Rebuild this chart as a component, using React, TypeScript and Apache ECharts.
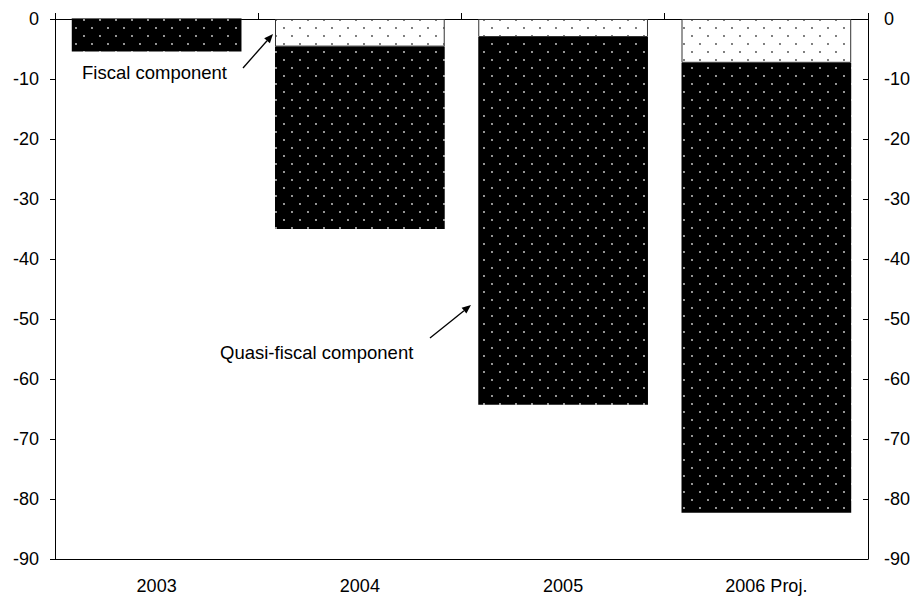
import React, { useEffect, useRef } from "react";
import * as echarts from "echarts";

const categories = ["2003", "2004", "2005", "2006 Proj."];
const fiscalComponent = [0, -4.6, -3.0, -7.3];
const quasiFiscalComponent = [-5.4, -30.4, -61.3, -75.0];
const yMin = -90;
const yMax = 0;
const yInterval = 10;

const FONT = "'Liberation Sans', Arial, sans-serif";

function makePattern(bg: string, dot: string): HTMLCanvasElement {
  const c = document.createElement("canvas");
  c.width = 16;
  c.height = 16;
  const ctx = c.getContext("2d")!;
  ctx.fillStyle = bg;
  ctx.fillRect(0, 0, 16, 16);
  ctx.fillStyle = dot;
  const pts = [
    [4, 4],
    [12, 12],
  ];
  for (const [x, y] of pts) {
    ctx.beginPath();
    ctx.arc(x, y, 0.9, 0, Math.PI * 2);
    ctx.fill();
  }
  return c;
}

function arrow(x1: number, y1: number, x2: number, y2: number) {
  const dx = x2 - x1;
  const dy = y2 - y1;
  const len = Math.sqrt(dx * dx + dy * dy);
  const ux = dx / len;
  const uy = dy / len;
  const hl = 9;
  const hw = 3.8;
  const bx = x2 - ux * hl;
  const by = y2 - uy * hl;
  return [
    {
      type: "line",
      shape: { x1, y1, x2: bx, y2: by },
      style: { stroke: "#000", lineWidth: 1.3 },
      silent: true,
    },
    {
      type: "polygon",
      shape: {
        points: [
          [x2, y2],
          [bx - uy * hw, by + ux * hw],
          [bx + uy * hw, by - ux * hw],
        ],
      },
      style: { fill: "#000" },
      silent: true,
    },
  ];
}

export default function App() {
  const ref = useRef<HTMLDivElement>(null);

  useEffect(() => {
    if (!ref.current) return;
    const chart = echarts.init(ref.current, undefined, { renderer: "svg" });
    const blackPat = makePattern("#000000", "#dcdcdc");
    const whitePat = makePattern("#ffffff", "#444444");

    const axisLabelStyle = {
      color: "#000",
      fontFamily: FONT,
      fontSize: 18,
    };

    chart.setOption({
      animation: false,
      backgroundColor: "#fff",
      grid: { left: 55, right: 45, top: 19, bottom: 39, containLabel: false },
      xAxis: [
        {
          type: "category",
          data: categories,
          position: "top",
          axisLine: { show: true, lineStyle: { color: "#000", width: 1 } },
          axisTick: { show: true, inside: false, length: 6, lineStyle: { color: "#000" } },
          axisLabel: { show: false },
          splitLine: { show: false },
        },
        {
          type: "category",
          data: categories,
          position: "bottom",
          axisLine: { show: true, onZero: false, lineStyle: { color: "#000", width: 1 } },
          axisTick: { show: false },
          axisLabel: { ...axisLabelStyle, margin: 18 },
          splitLine: { show: false },
        },
      ],
      yAxis: [
        {
          type: "value",
          position: "left",
          min: yMin,
          max: yMax,
          interval: yInterval,
          axisLine: { show: true, lineStyle: { color: "#000", width: 1 } },
          axisTick: { show: true, inside: false, length: 5, lineStyle: { color: "#000" } },
          axisLabel: { ...axisLabelStyle, margin: 16 },
          splitLine: { show: false },
        },
        {
          type: "value",
          position: "right",
          min: yMin,
          max: yMax,
          interval: yInterval,
          axisLine: { show: true, lineStyle: { color: "#000", width: 1 } },
          axisTick: { show: true, inside: true, length: 5, lineStyle: { color: "#000" } },
          axisLabel: { ...axisLabelStyle, margin: 16 },
          splitLine: { show: false },
        },
      ],
      series: [
        {
          name: "Fiscal component",
          type: "bar",
          stack: "total",
          xAxisIndex: 0,
          yAxisIndex: 0,
          barCategoryGap: "16.5%",
          data: fiscalComponent,
          itemStyle: {
            color: { image: whitePat, repeat: "repeat" },
            borderColor: "#333",
            borderWidth: 1,
          },
        },
        {
          name: "Quasi-fiscal component",
          type: "bar",
          stack: "total",
          xAxisIndex: 0,
          yAxisIndex: 0,
          barCategoryGap: "16.5%",
          data: quasiFiscalComponent,
          itemStyle: {
            color: { image: blackPat, repeat: "repeat" },
            borderWidth: 0,
          },
        },
      ],
      graphic: [
        {
          type: "text",
          left: 82,
          top: 63,
          style: {
            text: "Fiscal component",
            fill: "#000",
            font: `18.5px ${FONT}`,
          },
          silent: true,
        },
        ...arrow(243, 68, 273, 34),
        {
          type: "text",
          left: 220,
          top: 343,
          style: {
            text: "Quasi-fiscal component",
            fill: "#000",
            font: `18.5px ${FONT}`,
          },
          silent: true,
        },
        ...arrow(430, 338, 471, 305),
      ],
    });

    return () => {
      chart.dispose();
    };
  }, []);

  return (
    <div
      ref={ref}
      style={{ position: "fixed", left: 0, top: 0, width: 913, height: 598 }}
    />
  );
}
